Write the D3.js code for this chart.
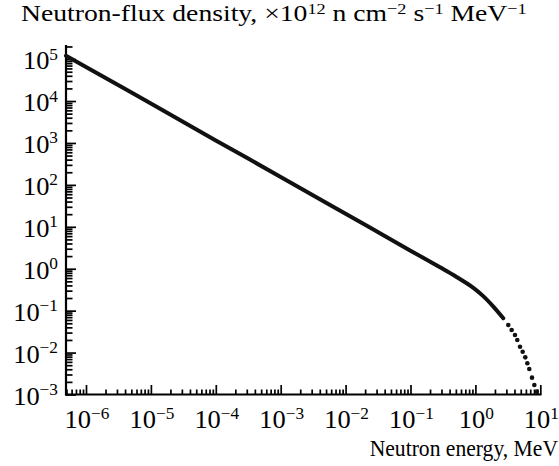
<!DOCTYPE html>
<html><head><meta charset="utf-8">
<script src="https://cdn.jsdelivr.net/npm/d3@7"></script>
<style>
html,body{margin:0;padding:0;background:#fff;}
text{font-family:"Liberation Serif","Times New Roman",serif;fill:#000;}
</style></head>
<body>
<svg id="c" width="559" height="466"></svg>
<script>
// Data
const xTickExps = [-6, -5, -4, -3, -2, -1, 0, 1];
const yTickExps = [-3, -2, -1, 0, 1, 2, 3, 4, 5];
// Main (dense) part of the spectrum: energy (MeV), flux density
const lineEnergy = [4.92e-7, 1e-6, 1e-5, 1e-4, 1e-3, 1e-2, 0.1, 0.285, 0.5, 0.93, 1.32, 1.89, 2.69];
const lineFlux   = [1.2e5,   6.5e4, 8700, 1150, 155,  20.5, 2.7, 1.08,  0.65, 0.35, 0.222, 0.125, 0.066];
// Tail: separate points
const dotEnergy = [3.21, 3.62, 4.07, 4.42, 4.87, 5.35, 5.87, 6.31, 6.77, 7.45, 8.09, 8.81];
const dotFlux   = [0.0455, 0.0345, 0.0262, 0.020, 0.0138, 0.0105, 0.0077, 0.00555, 0.00406, 0.00252, 0.00169, 0.00117];

const svg = d3.select("#c");
const x = d3.scaleLog().domain([4.92e-7, 10]).range([66, 540.3]);
const y = d3.scaleLog().domain([1e-3, 1e5]).range([394.5, 59.1]);
const yTop = 45;

function minors(lo, hi) {
  const out = [];
  for (let e = Math.floor(Math.log10(lo)); e <= Math.ceil(Math.log10(hi)); e++) {
    for (let m = 2; m <= 9; m++) {
      const v = m * Math.pow(10, e);
      if (v >= lo * 0.999 && v <= hi * 1.001) out.push(v);
    }
  }
  return out;
}
const yMax = y.invert(yTop);
const xMinor = minors(x.domain()[0], x.domain()[1]);
const yMinor = minors(1e-3, yMax);

const xg = svg.append("g").attr("transform", "translate(0,394.5)");
xg.call(d3.axisBottom(x).tickValues(xMinor).tickSize(-5).tickSizeOuter(0).tickFormat(""));
const xg2 = svg.append("g").attr("transform", "translate(0,394.5)");
xg2.call(d3.axisBottom(x).tickValues(xTickExps.map(e => Math.pow(10, e))).tickSize(-9.5).tickSizeOuter(0).tickFormat(""));

const yg = svg.append("g").attr("transform", "translate(66,0)");
yg.call(d3.axisLeft(y).tickValues(yMinor).tickSize(-6.5).tickSizeOuter(0).tickFormat(""));
const yg2 = svg.append("g").attr("transform", "translate(66,0)");
yg2.call(d3.axisLeft(y).tickValues(yTickExps.map(e => Math.pow(10, e))).tickSize(-10).tickSizeOuter(0).tickFormat(""));

svg.selectAll(".domain").remove();
svg.selectAll(".tick line").attr("stroke", "#000").attr("stroke-width", 1.7);

svg.append("line").attr("x1", 66).attr("x2", 66).attr("y1", yTop).attr("y2", 395.5).attr("stroke", "#000").attr("stroke-width", 2.2);
svg.append("line").attr("x1", 65).attr("x2", 541.5).attr("y1", 394.5).attr("y2", 394.5).attr("stroke", "#000").attr("stroke-width", 2.2);

function place(t, px, py, anchor, sx) {
  t.attr("text-anchor", anchor).attr("x", 0).attr("y", 0)
   .attr("transform", `translate(${px},${py}) scale(${sx},1)`);
}
function fitWidth(t, px, py, anchor, width) {
  t.attr("text-anchor", anchor).attr("x", 0).attr("y", 0);
  const w = t.node().getBBox().width;
  t.attr("transform", `translate(${px},${py}) scale(${width / w},1)`);
}

function pow10Label(exp) {
  const t = svg.append("text").style("font-size", "24.5px");
  t.append("tspan").text("10");
  t.append("tspan").attr("dy", -9.5).style("font-size", "16px")
    .text(exp < 0 ? "\u2212" + (-exp) : String(exp));
  return t;
}

yTickExps.forEach(e => place(pow10Label(e), 58, y(Math.pow(10, e)) + 10, "end", 1.08));
xTickExps.forEach(e => place(pow10Label(e), x(Math.pow(10, e)) + 1, 428.3, "middle", 1.08));

// title
const title = svg.append("text").style("font-size", "23.5px");
title.append("tspan").text("Neutron-flux density, \u00d710");
title.append("tspan").attr("dy", -7.5).style("font-size", "15.5px").text("12");
title.append("tspan").attr("dy", 7.5).text(" n cm");
title.append("tspan").attr("dy", -7.5).style("font-size", "15.5px").text("\u22122");
title.append("tspan").attr("dy", 7.5).text(" s");
title.append("tspan").attr("dy", -7.5).style("font-size", "15.5px").text("\u22121");
title.append("tspan").attr("dy", 7.5).text(" MeV");
title.append("tspan").attr("dy", -7.5).style("font-size", "15.5px").text("\u22121");
fitWidth(title, 21, 21, "start", 506);

const xt = svg.append("text").style("font-size", "24px").text("Neutron energy, MeV");
fitWidth(xt, 558, 456, "end", 189);

// curve
const pts = lineEnergy.map((e, i) => [e, lineFlux[i]]);
svg.append("path").datum(pts)
  .attr("d", d3.line().x(d => x(d[0])).y(d => y(d[1])).curve(d3.curveCatmullRom))
  .attr("fill", "none").attr("stroke", "#111").attr("stroke-width", 4)
  .attr("stroke-linecap", "round");

const dots = dotEnergy.map((e, i) => [e, dotFlux[i]]);
svg.selectAll("circle.d").data(dots).join("circle").attr("class", "d")
  .attr("cx", d => x(d[0])).attr("cy", d => y(d[1])).attr("r", 2.3).attr("fill", "#111");
</script>
</body></html>
